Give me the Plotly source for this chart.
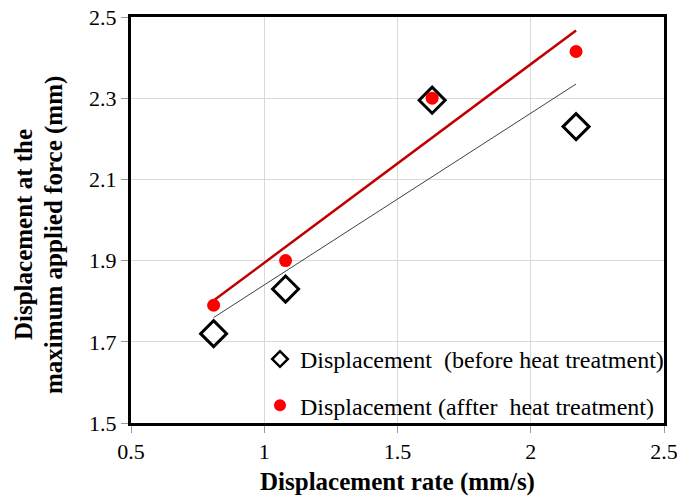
import numpy as np
import plotly.graph_objects as go

rate = [0.81, 1.08, 1.63, 2.17]
disp_before = [1.72, 1.83, 2.295, 2.23]
disp_after = [1.79, 1.90, 2.30, 2.415]

x_ticks = [0.5, 1, 1.5, 2, 2.5]
x_tick_labels = ["0.5", "1", "1.5", "2", "2.5"]
y_ticks = [1.5, 1.7, 1.9, 2.1, 2.3, 2.5]
y_tick_labels = ["1.5", "1.7", "1.9", "2.1", "2.3", "2.5"]

name_before = "Displacement  (before heat treatment)"
name_after = "Displacement (affter  heat treatment)"
y_title_lines = ["Displacement at the", "maximum applied force (mm)"]

FONT = "Liberation Serif, Times New Roman, serif"

xr = np.array([min(rate), max(rate)])
pb = np.polyfit(rate, disp_before, 1)
pa = np.polyfit(rate, disp_after, 1)

fig = go.Figure()
fig.add_trace(go.Scatter(x=xr, y=np.polyval(pb, xr), mode="lines",
                         line=dict(color="#404040", width=1), showlegend=False, hoverinfo="skip"))
fig.add_trace(go.Scatter(x=xr, y=np.polyval(pa, xr), mode="lines",
                         line=dict(color="#c00000", width=2.5), showlegend=False, hoverinfo="skip"))
fig.add_trace(go.Scatter(x=rate, y=disp_before, mode="markers", name=name_before,
                         showlegend=False,
                         marker=dict(symbol="diamond-open", size=20, color="black",
                                     line=dict(width=3, color="black"))))
fig.add_trace(go.Scatter(x=rate, y=disp_after, mode="markers", name=name_after,
                         showlegend=False,
                         marker=dict(symbol="circle", size=13, color="#ff0000",
                                     line=dict(width=0))))
# legend entries (smaller symbols, as in the reference legend)
fig.add_trace(go.Scatter(x=[None], y=[None], mode="markers", name=name_before, legendgroup="a",
                         marker=dict(symbol="diamond-open", size=12, color="black",
                                     line=dict(width=2.5, color="black"))))
fig.add_trace(go.Scatter(x=[None], y=[None], mode="markers", name=name_after, legendgroup="b",
                         marker=dict(symbol="circle", size=12, color="#ff0000",
                                     line=dict(width=0))))

fig.update_layout(
    width=677, height=503,
    margin=dict(l=131, r=13, t=17, b=80, autoexpand=False),
    paper_bgcolor="white", plot_bgcolor="white",
    font=dict(family=FONT, size=22, color="black"),
    showlegend=True,
    legend=dict(x=0.242, y=0.212, xanchor="left", yanchor="top",
                bgcolor="rgba(0,0,0,0)", font=dict(family=FONT, size=24, color="black"),
                tracegroupgap=12),
    xaxis=dict(range=[0.5, 2.5], tickvals=x_ticks, ticktext=x_tick_labels,
               showgrid=True, gridcolor="#d9d9d9", gridwidth=1,
               ticks="outside", ticklen=7, tickcolor="#999999",
               ticklabeloverflow="allow",
               showline=True, linecolor="black", linewidth=3, mirror=True,
               zeroline=False, automargin=False,
               title=dict(text="<b>Displacement rate (mm/s)</b>", font=dict(family=FONT, size=25), standoff=10)),
    yaxis=dict(range=[1.5, 2.5], tickvals=y_ticks, ticktext=y_tick_labels,
               showgrid=True, gridcolor="#d9d9d9", gridwidth=1,
               ticks="outside", ticklen=7, tickcolor="#999999",
               ticklabeloverflow="allow",
               showline=True, linecolor="black", linewidth=3, mirror=True,
               zeroline=False, automargin=False),
)

for xp, line in zip([-0.2026, -0.1446], y_title_lines):
    fig.add_annotation(text="<b>" + line + "</b>", xref="paper", yref="paper",
                       x=xp, y=0.463, xanchor="center", yanchor="middle",
                       textangle=-90, showarrow=False,
                       font=dict(family=FONT, size=25, color="black"))

fig.write_html("out.html",
               config={"displayModeBar": False},
               post_script="document.body.style.margin='0';document.body.style.overflow='hidden';")
